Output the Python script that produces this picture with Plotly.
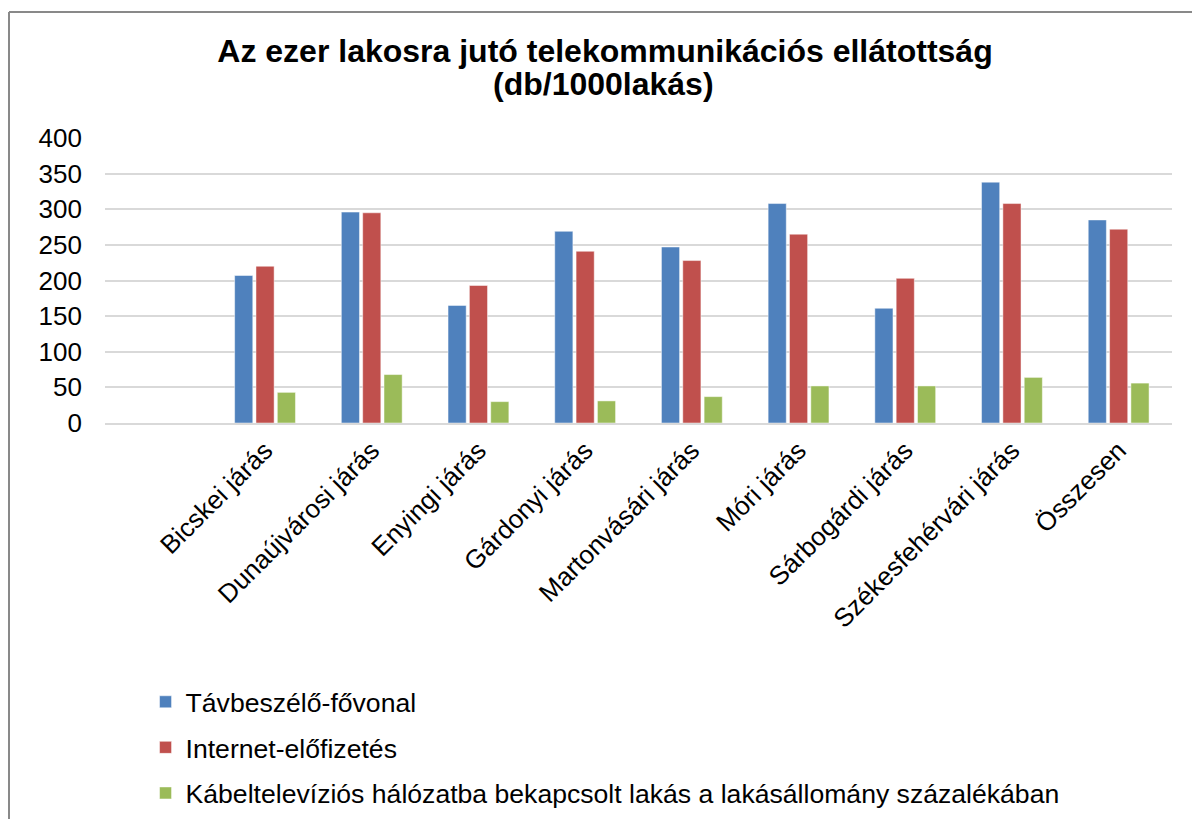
import plotly.graph_objects as go

categories = ["Bicskei járás", "Dunaújvárosi járás", "Enyingi járás", "Gárdonyi járás",
              "Martonvásári járás", "Móri járás", "Sárbogárdi járás",
              "Székesfehérvári járás", "Összesen"]
fovonal = [207, 296, 165, 269, 247, 308, 161, 338, 285]
internet = [220, 295, 193, 241, 228, 265, 203, 308, 272]
kabeltv = [43, 68, 30, 31, 37, 52, 52, 64, 56]

series_names = ["Távbeszélő-fővonal", "Internet-előfizetés",
                "Kábeltelevíziós hálózatba bekapcsolt lakás a lakásállomány százalékában"]
colors = ["#4F81BD", "#C0504D", "#9BBB59"]

fig = go.Figure()
for name, vals, col in zip(series_names, [fovonal, internet, kabeltv], colors):
    fig.add_trace(go.Bar(x=categories, y=vals, name=name, legendgroup=name,
                         marker=dict(color=col, line=dict(color="rgba(255,255,255,0.6)", width=0.8))))

font = "Liberation Sans, Arial, sans-serif"
fig.update_layout(
    width=1192, height=819,
    margin=dict(l=105, r=20, t=138, b=396, autoexpand=False),
    paper_bgcolor="white", plot_bgcolor="white",
    font=dict(family=font, size=26, color="black"),
    title=dict(text="<b>Az ezer lakosra jutó telekommunikációs ellátottság</b>",
               font=dict(size=32), x=605/1192, xanchor="center",
               xref="container", yref="container", y=1 - 51/819, yanchor="middle"),
    barmode="group", bargap=0.4, bargroupgap=0.15,
    showlegend=True,
    legend=dict(orientation="v", x=0.038, xanchor="left", y=(423 - 678) / 285, yanchor="top",
                traceorder="grouped", tracegroupgap=8, font=dict(size=26.6),
                bgcolor="rgba(0,0,0,0)"),
    xaxis=dict(type="category", range=[-1.5, 8.5], tickangle=-45, showgrid=False,
               showline=True, linecolor="#d9d9d9", linewidth=2, ticks=""),
    yaxis=dict(range=[0, 400], dtick=50, showgrid=True, gridcolor="#d9d9d9", gridwidth=1.5,
               zeroline=False, showline=False, ticks="", ticklabelstandoff=22),
)
fig.add_annotation(text="<b>(db/1000lakás)</b>", xref="paper", yref="paper",
                   x=(603 - 105) / 1067, y=(423 - 84) / 285, showarrow=False,
                   font=dict(size=32), xanchor="center", yanchor="middle")
# chart frame: only left and top edges are visible in the picture
frame_left = (9 - 105) / 1067
frame_top = (423 - 12) / 285
fig.add_shape(type="line", xref="paper", yref="paper",
              x0=frame_left, x1=frame_left, y0=(423 - 830) / 285, y1=frame_top,
              line=dict(color="#898989", width=2))
fig.add_shape(type="line", xref="paper", yref="paper",
              x0=frame_left, x1=(1210 - 105) / 1067, y0=frame_top, y1=frame_top,
              line=dict(color="#898989", width=2))

fig.write_html("out.html", config={"displayModeBar": False},
               post_script="document.body.style.margin='0';")
